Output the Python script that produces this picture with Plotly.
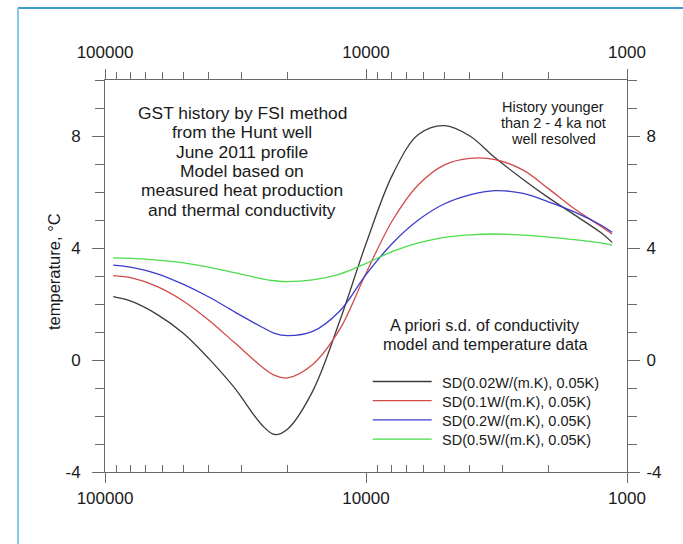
import plotly.graph_objects as go

# Age before present (years) and ground surface temperature (°C) for each a priori s.d.
years = [93000, 79000, 63000, 50000, 40000, 32000, 25000, 22400, 20000, 16000, 12600, 10000,
         7900, 6300, 5000, 4000, 3200, 2500, 2000, 1600, 1260, 1140]
sd_002 = [2.26, 2.09, 1.62, 0.95, 0.05, -0.98, -2.33, -2.66, -2.47, -1.11, 1.40, 4.15,
          6.63, 8.05, 8.37, 8.0, 7.22, 6.45, 5.8, 5.2, 4.55, 4.2]
sd_01 = [3.01, 2.93, 2.62, 2.1, 1.42, 0.63, -0.25, -0.55, -0.64, -0.16, 1.1, 3.1,
         5.0, 6.26, 6.97, 7.2, 7.16, 6.78, 6.12, 5.42, 4.78, 4.5]
sd_02 = [3.39, 3.31, 3.08, 2.7, 2.25, 1.73, 1.17, 0.95, 0.87, 1.02, 1.75, 3.05,
         4.18, 5.0, 5.58, 5.9, 6.05, 5.95, 5.65, 5.3, 4.82, 4.56]
sd_05 = [3.65, 3.63, 3.57, 3.47, 3.32, 3.12, 2.9, 2.83, 2.80, 2.86, 3.07, 3.45,
         3.88, 4.18, 4.38, 4.47, 4.5, 4.46, 4.39, 4.3, 4.18, 4.1]

names = ["SD(0.02W/(m.K), 0.05K)", "SD(0.1W/(m.K), 0.05K)",
         "SD(0.2W/(m.K), 0.05K)", "SD(0.5W/(m.K), 0.05K)"]
values = [sd_002, sd_01, sd_02, sd_05]
colors = ["#3c3c3c", "#d24a4a", "#3c3ccc", "#4cdc4c"]

major_x = [100000, 10000, 1000]
major_x_text = ["100000", "10000", "1000"]
minor_x = [k * 1000 for k in range(2, 10)] + [k * 10000 for k in range(2, 10)]
major_y = [-4, 0, 4, 8]
major_y_text = ["-4", "0", "4", "8"]
minor_y = list(range(-4, 11))

W, H = 683, 544
L, R, T, B = 105, 627, 80, 472   # plot area in pixels

def xp(px):
    return (px - L) / (R - L)

def yp(py):
    return (B - py) / (B - T)

FONT = "Liberation Sans, Arial, sans-serif"
TXT = "#1a1a1a"
AX = "#6a6a6a"

fig = go.Figure()
for name, vals, color in zip(names, values, colors):
    fig.add_trace(go.Scatter(
        x=years, y=vals, name=name, mode="lines", showlegend=False,
        line=dict(color=color, width=1.3, shape="spline", smoothing=1.0),
    ))
# carries the top and right axes
fig.add_trace(go.Scatter(
    x=years, y=sd_05, xaxis="x2", yaxis="y2", mode="lines",
    line=dict(color="rgba(0,0,0,0)", width=0), showlegend=False, hoverinfo="skip",
))

xcommon = dict(
    type="log", range=[5, 3], tickmode="array", tickvals=major_x, ticktext=major_x_text,
    showgrid=False, zeroline=False, showline=True, linecolor=AX, linewidth=1,
    ticks="outside", ticklen=10, tickcolor=AX, tickwidth=1,
    tickfont=dict(family=FONT, size=17, color=TXT),
)
ycommon = dict(
    range=[-4, 10], tickmode="array", tickvals=major_y, ticktext=major_y_text,
    showgrid=False, zeroline=False, showline=True, linecolor=AX, linewidth=1,
    ticks="outside", ticklen=12, tickcolor=AX, tickwidth=1,
    tickfont=dict(family=FONT, size=17, color=TXT),
    minor=dict(tickmode="array", tickvals=minor_y, ticks="outside",
               ticklen=9, tickcolor=AX, tickwidth=1, showgrid=False),
)

fig.update_layout(
    width=W, height=H,
    margin=dict(l=L, r=W - R, t=T, b=H - B, pad=0),
    paper_bgcolor="white", plot_bgcolor="white",
    font=dict(family=FONT, color=TXT),
    showlegend=False,
    xaxis=dict(**xcommon, ticklabelstandoff=1,
               minor=dict(tickmode="array", tickvals=minor_x, ticks="inside",
                          ticklen=7, tickcolor=AX, tickwidth=1, showgrid=False)),
    xaxis2=dict(**xcommon, overlaying="x", side="top", anchor="y", ticklabelstandoff=4,
                minor=dict(tickmode="array", tickvals=minor_x, ticks="outside",
                           ticklen=7, tickcolor=AX, tickwidth=1, showgrid=False)),
    yaxis=dict(**ycommon, ticklabelstandoff=8),
    yaxis2=dict(**ycommon, overlaying="y", side="right", anchor="x", ticklabelstandoff=3),
)

# light blue frame around the figure
fig.add_shape(type="line", xref="paper", yref="paper",
              x0=xp(18), x1=xp(700), y0=yp(8), y1=yp(8),
              line=dict(color="#3a9ccb", width=2))
fig.add_shape(type="line", xref="paper", yref="paper",
              x0=xp(18), x1=xp(18), y0=yp(8), y1=yp(560),
              line=dict(color="#84cbe4", width=2))

def text_lines(lines, cx, first_cy, step, size):
    for i, line in enumerate(lines):
        fig.add_annotation(
            text=line, xref="paper", yref="paper",
            x=xp(cx), y=yp(first_cy + i * step),
            xanchor="center", yanchor="middle", showarrow=False,
            font=dict(family=FONT, size=size, color=TXT),
        )

text_lines(["GST history by FSI method", "from the Hunt well", "June 2011 profile",
            "Model based on", "measured heat production", "and thermal conductivity"],
           242, 113, 19.3, 17.4)
text_lines(["History younger", "than 2 - 4 ka not", "well resolved"],
           553, 107, 16.2, 14.5)
text_lines(["A priori s.d. of conductivity", "model and temperature data"],
           485, 325, 18.7, 16.3)

# y axis title
fig.add_annotation(
    text="temperature, °C", xref="paper", yref="paper", x=xp(54), y=yp(272),
    xanchor="center", yanchor="middle", textangle=-90, showarrow=False,
    font=dict(family=FONT, size=16.5, color=TXT),
)

# legend: key line and label for each series
for i, (name, color) in enumerate(zip(names, colors)):
    cy = 381.5 + 19.2 * i
    fig.add_shape(type="line", xref="paper", yref="paper",
                  x0=xp(372.7), x1=xp(431.7), y0=yp(cy), y1=yp(cy),
                  line=dict(color=color, width=1.3))
    fig.add_annotation(
        text=name, xref="paper", yref="paper", x=xp(440), y=yp(cy + 1),
        xanchor="left", yanchor="middle", showarrow=False,
        font=dict(family=FONT, size=14.5, color=TXT),
    )

fig.write_html("out.html")
